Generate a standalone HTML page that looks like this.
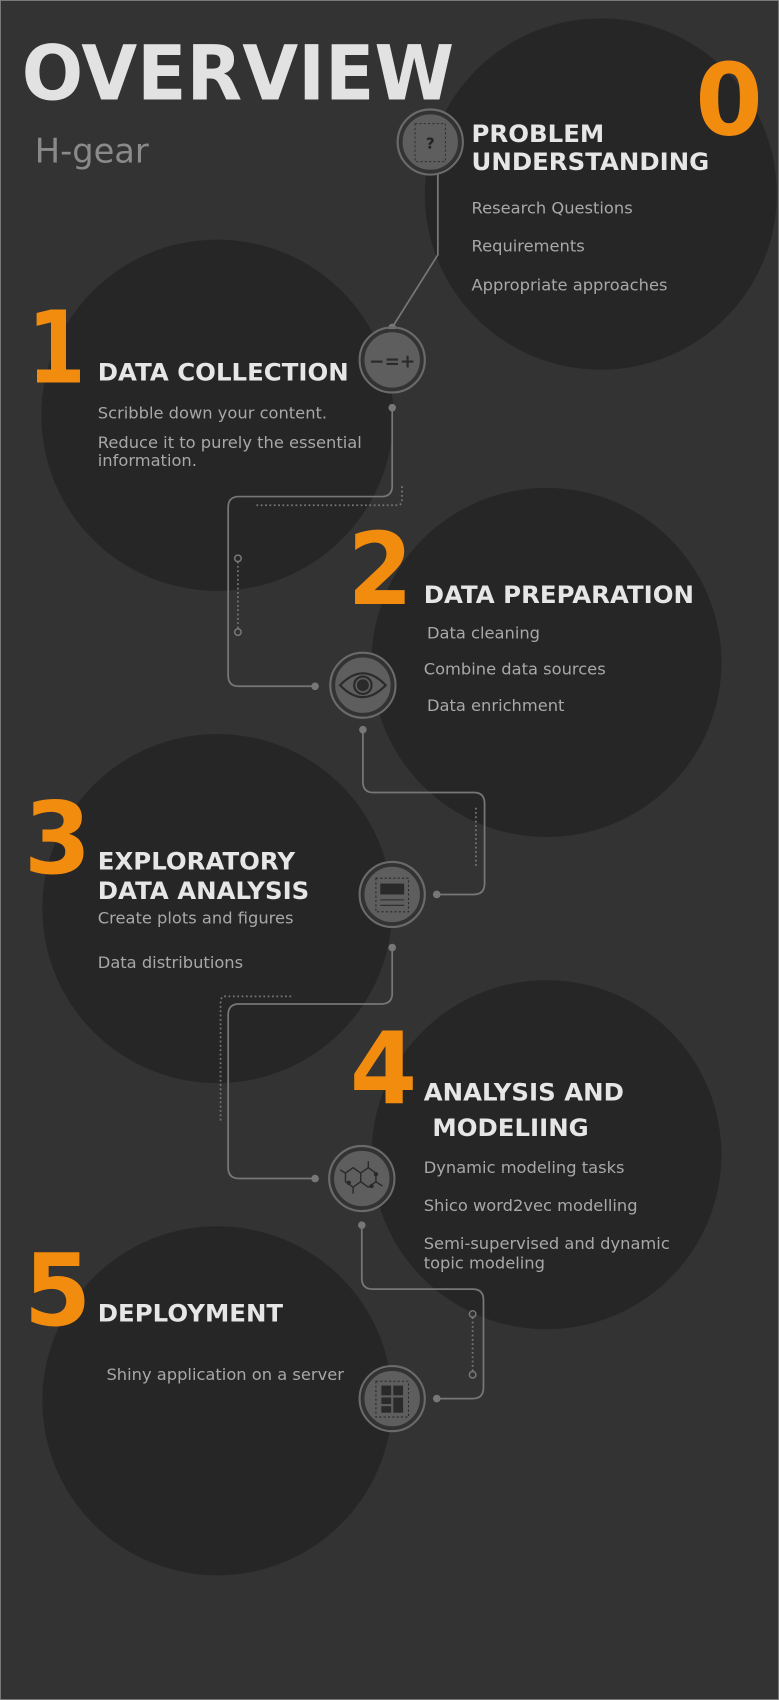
<!DOCTYPE html>
<html><head><meta charset="utf-8"><style>
html,body{margin:0;padding:0;background:#333;}
svg{display:block}
text{font-family:"DejaVu Sans","Liberation Sans",sans-serif}
.h{fill:#e6e6e6;font-weight:bold;font-size:22.5px}
.i{fill:#a8a8a8;font-size:15px}
.n{fill:#f28c0f;font-weight:bold;font-size:92px}
.ln{fill:none;stroke:#777;stroke-width:1.6}
.dt{fill:none;stroke:#777;stroke-width:1.6;stroke-dasharray:1.6 2.4}
.dot{fill:#777}
.nd{fill:#5e5e5e;stroke:#333;stroke-width:3}
.rg{fill:none;stroke:#6a6a6a;stroke-width:2}
</style></head><body>
<svg width="779" height="1700" viewBox="0 0 717 1568" preserveAspectRatio="none" xmlns="http://www.w3.org/2000/svg">
<rect x="0" y="0" width="717" height="1568" fill="#333" stroke="#888" stroke-width="1.5"/>
<g fill="#262626">
<circle cx="553" cy="179" r="162"/>
<circle cx="200" cy="383" r="162"/>
<circle cx="503" cy="611" r="161"/>
<circle cx="200" cy="838" r="161"/>
<circle cx="503" cy="1065" r="161"/>
<circle cx="200" cy="1292" r="161"/>
</g>
<path class="ln" d="M403 160 V235 L361 302"/>
<circle class="dot" cx="361" cy="302" r="3.5"/>
<path class="ln" d="M361 376 V448 Q361 458 351 458 H220 Q210 458 210 468 V623 Q210 633 220 633 H290"/>
<circle class="dot" cx="361" cy="376" r="3.5"/><circle class="dot" cx="290" cy="633" r="3.5"/>
<path class="dt" d="M236 466 H366 Q370 466 370 460 V447"/>
<path class="dt" d="M219 518 V580"/><circle cx="219" cy="515" r="3" fill="none" stroke="#777" stroke-width="1.4"/><circle cx="219" cy="583" r="3" fill="none" stroke="#777" stroke-width="1.4"/>
<path class="ln" d="M334 673 V721 Q334 731 344 731 H436 Q446 731 446 741 V815 Q446 825 436 825 H402"/>
<circle class="dot" cx="334" cy="673" r="3.5"/><circle class="dot" cx="402" cy="825" r="3.5"/>
<path class="dt" d="M438 745 V800"/>
<path class="ln" d="M361 874 V916 Q361 926 351 926 H220 Q210 926 210 936 V1077 Q210 1087 220 1087 H290"/>
<circle class="dot" cx="361" cy="874" r="3.5"/><circle class="dot" cx="290" cy="1087" r="3.5"/>
<path class="dt" d="M268 919 H207 Q203 919 203 925 V1035"/>
<path class="ln" d="M333 1130 V1179 Q333 1189 343 1189 H435 Q445 1189 445 1199 V1280 Q445 1290 435 1290 H402"/>
<circle class="dot" cx="333" cy="1130" r="3.5"/><circle class="dot" cx="402" cy="1290" r="3.5"/>
<path class="dt" d="M435 1215 V1265"/><circle cx="435" cy="1212" r="3" fill="none" stroke="#777" stroke-width="1.4"/><circle cx="435" cy="1268" r="3" fill="none" stroke="#777" stroke-width="1.4"/>
<g>
<circle class="rg" cx="396" cy="131" r="30"/><circle class="nd" cx="396" cy="131" r="27"/>
<rect x="382" y="114" width="28" height="35" fill="none" stroke="#333" stroke-dasharray="2 2"/>
<text x="396" y="137" text-anchor="middle" font-size="14" font-weight="bold" fill="#222">?</text>
<circle class="rg" cx="361" cy="332" r="30"/><circle class="nd" cx="361" cy="332" r="27"/>
<text x="361" y="339" text-anchor="middle" font-size="17" font-weight="bold" fill="#2a2a2a">−=+</text>
<circle class="rg" cx="334" cy="632" r="30"/><circle class="nd" cx="334" cy="632" r="27"/>
<path d="M313 632 Q334 610 355 632 Q334 654 313 632Z" fill="none" stroke="#2a2a2a" stroke-width="2"/>
<circle cx="334" cy="632" r="8" fill="none" stroke="#2a2a2a" stroke-width="2"/><circle cx="334" cy="632" r="5.5" fill="#2a2a2a"/>
<circle class="rg" cx="361" cy="825" r="30"/><circle class="nd" cx="361" cy="825" r="27"/>
<rect x="346" y="810" width="30" height="31" fill="none" stroke="#2a2a2a" stroke-dasharray="2 2"/>
<rect x="350" y="815" width="22" height="10" fill="#2a2a2a"/><path d="M350 830 H372 M350 835 H372" stroke="#2a2a2a"/>
<circle class="rg" cx="333" cy="1087" r="30"/><circle class="nd" cx="333" cy="1087" r="27"/>
<path d="M318 1082 L325 1077 L332 1082 L332 1090 L325 1095 L318 1090Z M332 1082 L339 1077 L346 1082 L346 1090 L339 1095 L332 1090 M346 1090 L352 1094 M325 1095 L325 1101 M339 1077 L339 1071 M318 1082 L313 1079" fill="none" stroke="#2a2a2a" stroke-width="1.3"/>
<circle cx="321" cy="1091" r="2" fill="#2a2a2a"/><circle cx="342" cy="1094" r="2" fill="#2a2a2a"/><circle cx="346" cy="1083" r="2" fill="#2a2a2a"/>
<circle class="rg" cx="361" cy="1290" r="30"/><circle class="nd" cx="361" cy="1290" r="27"/>
<rect x="346" y="1274" width="30" height="33" fill="none" stroke="#2a2a2a" stroke-dasharray="2 2"/>
<rect x="351" y="1278" width="9" height="9" fill="#2a2a2a"/><rect x="362" y="1278" width="9" height="9" fill="#2a2a2a"/>
<rect x="351" y="1289" width="9" height="6" fill="#2a2a2a"/><rect x="351" y="1297" width="9" height="6" fill="#2a2a2a"/><rect x="362" y="1289" width="9" height="14" fill="#2a2a2a"/>
</g>
<text x="20" y="92" font-size="70" font-weight="bold" fill="#e2e2e2" textLength="398" lengthAdjust="spacingAndGlyphs">OVERVIEW</text>
<text x="32" y="150" font-size="31" fill="#8a8a8a">H-gear</text>
<text class="n" x="640" y="124" textLength="62" lengthAdjust="spacingAndGlyphs">0</text>
<text class="h" x="434" y="131">PROBLEM</text>
<text class="h" x="434" y="157">UNDERSTANDING</text>
<text class="i" x="434" y="197">Research Questions</text>
<text class="i" x="434" y="232">Requirements</text>
<text class="i" x="434" y="268">Appropriate approaches</text>

<text class="n" x="25" y="353" textLength="54" lengthAdjust="spacingAndGlyphs">1</text>
<text class="h" x="90" y="351">DATA COLLECTION</text>
<text class="i" x="90" y="386">Scribble down your content.</text>
<text class="i" x="90" y="413">Reduce it to purely the essential</text>
<text class="i" x="90" y="430">information.</text>

<text class="n" x="320" y="557" textLength="60" lengthAdjust="spacingAndGlyphs">2</text>
<text class="h" x="390" y="556">DATA PREPARATION</text>
<text class="i" x="393" y="589">Data cleaning</text>
<text class="i" x="390" y="622">Combine data sources</text>
<text class="i" x="393" y="656">Data enrichment</text>

<text class="n" x="22" y="805" textLength="62" lengthAdjust="spacingAndGlyphs">3</text>
<text class="h" x="90" y="802">EXPLORATORY</text>
<text class="h" x="90" y="829">DATA ANALYSIS</text>
<text class="i" x="90" y="852">Create plots and figures</text>
<text class="i" x="90" y="893">Data distributions</text>

<text class="n" x="322" y="1018" textLength="62" lengthAdjust="spacingAndGlyphs">4</text>
<text class="h" x="390" y="1015">ANALYSIS AND</text>
<text class="h" x="398" y="1048">MODELIING</text>
<text class="i" x="390" y="1082">Dynamic modeling tasks</text>
<text class="i" x="390" y="1117">Shico word2vec modelling</text>
<text class="i" x="390" y="1152">Semi-supervised and dynamic</text>
<text class="i" x="390" y="1170">topic modeling</text>

<text class="n" x="22" y="1222" textLength="62" lengthAdjust="spacingAndGlyphs">5</text>
<text class="h" x="90" y="1219">DEPLOYMENT</text>
<text class="i" x="98" y="1273">Shiny application on a server</text>
</svg>
</body></html>
